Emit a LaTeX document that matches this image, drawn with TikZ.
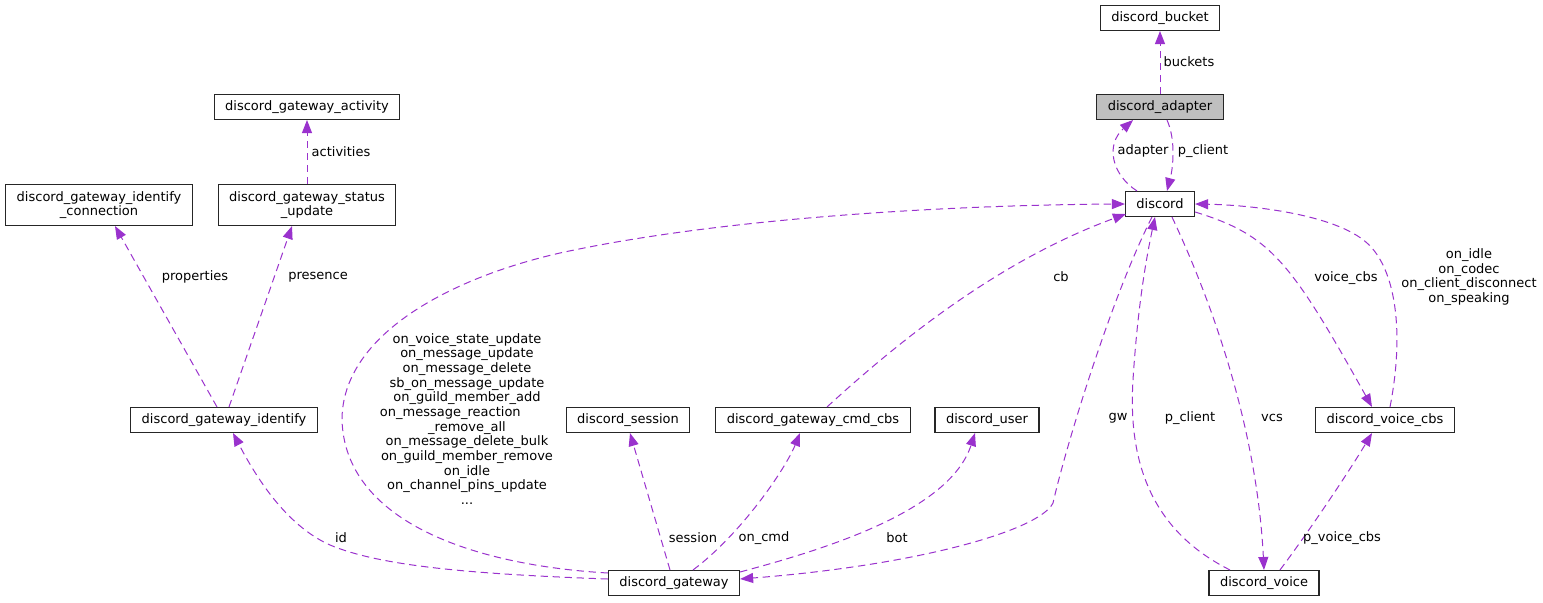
\documentclass[tikz,border=0pt]{standalone}
\usepackage{fontspec}
\setmainfont{DejaVu Sans}
\usetikzlibrary{arrows.meta,calc}
\definecolor{edgecol}{RGB}{154,50,205}
\begin{document}
\begin{tikzpicture}[x=0.75pt, y=-0.75pt,
  box/.style={draw=black!85, line width=0.8pt, fill=white, inner xsep=8.25pt, inner ysep=4pt,
    minimum height=18.75pt, align=center, font=\fontsize{9.75}{10}\selectfont},
  twoline/.style={box, minimum height=30.75pt},
  lbl/.style={inner sep=0pt, align=center, font=\fontsize{9.75}{11}\selectfont},
  dep/.style={draw=edgecol, line width=0.75pt, dash pattern=on 5.5pt off 3.5pt,
    -{Triangle[length=9.75pt,width=7.5pt]}}]
\useasboundingbox (0,0) rectangle (1543,603);
\node[box] (bucket) at (1160,18) {discord\_bucket};
\node[box, fill=black!25] (adapter) at (1160,107) {discord\_adapter};
\node[box] (discord) at (1160,204) {discord};
\node[box] (activity) at (307,107) {discord\_gateway\_activity};
\node[twoline] (identcon) at (99,205) {discord\_gateway\_identify\\\_connection};
\node[twoline] (status) at (307,205) {discord\_gateway\_status\\\_update};
\node[box] (identify) at (224,420) {discord\_gateway\_identify};
\node[box] (session) at (628,420) {discord\_session};
\node[box] (cmdcbs) at (813,420) {discord\_gateway\_cmd\_cbs};
\node[box] (user) at (987,420) {discord\_user};
\node[box] (voicecbs) at (1385,420) {discord\_voice\_cbs};
\node[box] (gateway) at (674,583) {discord\_gateway};
\node[box] (voice) at (1264,583) {discord\_voice};

\draw[dep] (adapter.north) -- (bucket.south);
\draw[dep] ($(discord.north)+(-23,0)$) .. controls (1112,175) and (1105,145) .. ($(adapter.south)+(-27,0)$);
\draw[dep] ($(adapter.south)+(7,0)$) .. controls (1176,140) and (1173,168) .. ($(discord.north)+(7,0)$);
\draw[dep] (status.north) -- (activity.south);
\draw[dep] ($(identify.north)+(-7,0)$) -- ($(identcon.south)+(16,0)$);
\draw[dep] ($(identify.north)+(5,0)$) -- ($(status.south)+(-15,0)$);
\draw[dep] ($(gateway.west)+(0,-4)$) .. controls (470,574) and (380,566) .. (330,545)
  .. controls (285,525) and (255,475) .. ($(identify.south)+(9,0)$);
\draw[dep] ($(gateway.west)+(0,-10)$) .. controls (470,565) and (345,520) .. (342,420)
  .. controls (342,335) and (450,278) .. (560,253) .. controls (720,218) and (950,205) .. (discord.west);
\draw[dep] ($(gateway.north)+(-4,0)$) -- ($(session.south)+(2,0)$);
\draw[dep] ($(gateway.north)+(19,0)$) .. controls (740,535) and (785,470) .. ($(cmdcbs.south)+(-13,0)$);
\draw[dep] ($(gateway.north east)+(0,2)$) .. controls (830,548) and (950,510) .. ($(user.south)+(-12,0)$);
\draw[dep] ($(discord.south)+(-8,0)$) .. controls (1110,300) and (1065,450) .. (1053,503)
  .. controls (1040,530) and (920,565) .. ($(gateway.east)+(0,-4)$);
\draw[dep] ($(voice.north)+(-34,0)$) .. controls (1150,530) and (1128,460) .. (1133,380)
  .. controls (1138,300) and (1148,250) .. ($(discord.south)+(-5,0)$);
\draw[dep] ($(discord.south)+(12,0)$) .. controls (1225,330) and (1258,450) .. (voice.north);
\draw[dep] ($(cmdcbs.north)+(14,0)$) .. controls (900,340) and (1000,260) .. ($(discord.south west)+(1,-3)$);
\draw[dep] ($(discord.east)+(0,8)$) .. controls (1270,235) and (1290,260) .. ($(voicecbs.north)+(-13,0)$);
\draw[dep] ($(voicecbs.north)+(5,0)$) .. controls (1405,330) and (1395,268) .. (1367,243)
  .. controls (1335,214) and (1250,205) .. (discord.east);
\draw[dep] ($(voice.north)+(16,0)$) .. controls (1310,530) and (1350,470) .. ($(voicecbs.south)+(-13,0)$);

\node[lbl] (lbuckets) at (1189,62) {buckets};
\node[lbl] (ladapter) at (1143,151) {adapter};
\node[lbl] (lpclient) at (1203,151) {p\_client};
\node[lbl] (lactivities) at (341,152) {activities};
\node[lbl] (lproperties) at (195,277) {properties};
\node[lbl] (lpresence) at (318,277) {presence};
\node[lbl] (lcallbacks) at (467,419) {on\_voice\_state\_update\\on\_message\_update\\on\_message\_delete\\sb\_on\_message\_update\\on\_guild\_member\_add\\on\_message\_reaction\rule{25pt}{0pt}\\\_remove\_all\\on\_message\_delete\_bulk\\on\_guild\_member\_remove\\on\_idle\\on\_channel\_pins\_update\\...};
\node[lbl] (lid) at (341,538) {id};
\node[lbl] (lsession) at (693,538) {session};
\node[lbl] (loncmd) at (764,538) {on\_cmd};
\node[lbl] (lbot) at (897,538) {bot};
\node[lbl] (lcb) at (1061,277) {cb};
\node[lbl] (lgw) at (1118,418) {gw};
\node[lbl] (lpclient2) at (1190,418) {p\_client};
\node[lbl] (lvcs) at (1272,418) {vcs};
\node[lbl] (lvoicecbs) at (1346,278) {voice\_cbs};
\node[lbl] (lvoiceev) at (1469,277) {on\_idle\\on\_codec\\on\_client\_disconnect\\on\_speaking};
\node[lbl] (lpvoicecbs) at (1342,538) {p\_voice\_cbs};
\end{tikzpicture}
\end{document}
